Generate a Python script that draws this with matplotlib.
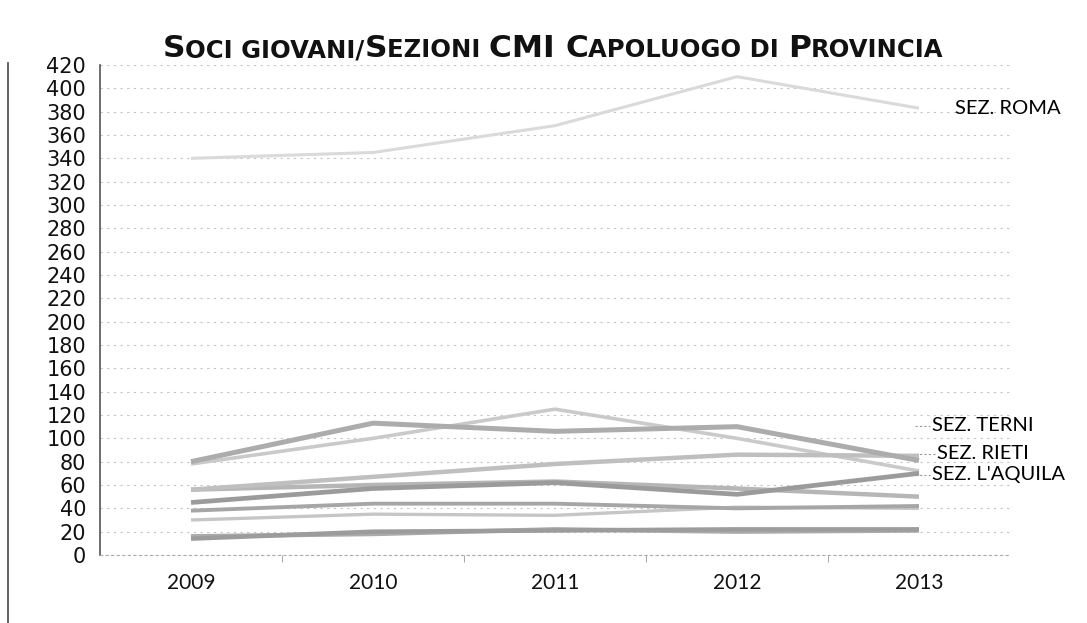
import matplotlib
matplotlib.use("Agg")
import matplotlib.pyplot as plt
from matplotlib.lines import Line2D

# ---- data -----------------------------------------------------------------
anni = ["2009", "2010", "2011", "2012", "2013"]
roma = [340, 345, 368, 410, 383]
terni = [80, 113, 106, 110, 81]
rieti = [56, 67, 78, 86, 85]
aquila = [45, 57, 62, 52, 70]
# unlabelled sections (faded lines in the scan)
sez_a = [78, 100, 125, 100, 72]
sez_b = [56, 60, 63, 57, 50]
sez_c = [38, 44, 44, 40, 42]
sez_d = [30, 35, 34, 41, 40]
sez_e = [14, 20, 21, 22, 22]
sez_f = [16, 18, 22, 20, 21]

y_ticks = list(range(0, 421, 20))

fig = plt.figure(figsize=(10.87, 6.23), dpi=100)
ax = fig.add_axes([100 / 1087, 68 / 623, 910 / 1087, 490 / 623])

x = list(range(len(anni)))
series = [
    (roma, "#dadada", 2.2),
    (sez_a, "#cacaca", 2.6),
    (sez_f, "#ababab", 3.2),
    (sez_e, "#9c9c9c", 3.2),
    (sez_d, "#c6c6c6", 2.4),
    (sez_c, "#a6a6a6", 2.8),
    (sez_b, "#b6b6b6", 3.2),
    (rieti, "#bfbfbf", 3.2),
    (aquila, "#9b9b9b", 3.4),
    (terni, "#acacac", 3.6),
]
for vals, col, lw in series:
    ax.plot(x, vals, color=col, lw=lw, solid_capstyle="butt", zorder=3)

ax.set_xlim(-0.5, len(anni) - 0.5)
ax.set_ylim(0, 420)
ax.set_yticks(y_ticks)
ax.set_yticklabels([str(v) for v in y_ticks], fontsize=15, family="DejaVu Sans",
                   color="#111111")
ax.set_xticks(x)
ax.set_xticklabels(anni, fontsize=15, family="Lato", color="#111111")
ax.set_xticks([i + 0.5 for i in x[:-1]], minor=True)
ax.tick_params(axis="y", length=0, pad=10)
ax.tick_params(axis="x", which="major", length=0, pad=13)
ax.tick_params(axis="x", which="minor", length=5, color="#999999", direction="out")

ax.yaxis.grid(True, color="#c4c4c4", lw=0.8, ls=(0, (2, 4)))
ax.set_axisbelow(True)
for s in ["top", "right"]:
    ax.spines[s].set_visible(False)
ax.spines["left"].set_color("#555555")
ax.spines["left"].set_linewidth(1.2)
ax.spines["bottom"].set_color("#aaaaaa")
ax.spines["bottom"].set_linestyle((0, (2, 3)))

# series labels at the right end
lab_x = len(anni) - 1 + 0.06
ax.text(lab_x + 0.14, roma[-1], "SEZ. ROMA", fontsize=14.5, family="Lato",
        va="center", ha="left")
for lbl, yv, dx in [("SEZ. TERNI", 111, 0.0), ("SEZ. RIETI", 87, 0.03),
                    ("SEZ. L'AQUILA", 69, 0.0)]:
    ax.plot([len(anni) - 1 - 0.02, lab_x + dx], [yv, yv], color="#999999",
            lw=0.8, ls=(0, (2, 2)), zorder=2)
    ax.text(lab_x + dx + 0.01, yv, lbl, fontsize=14.5, family="Lato",
            va="center", ha="left")

# small-caps style title, built from pieces
pieces = [("S", 22.5), ("OCI GIOVANI/", 17.5), ("S", 22.5), ("EZIONI ", 17.5),
          ("CMI ", 22.5), ("C", 22.5), ("APOLUOGO DI ", 17.5), ("P", 22.5),
          ("ROVINCIA", 17.5)]
renderer = fig.canvas.get_renderer()
texts = []
xpos = 0
for s, fs in pieces:
    t = fig.text(xpos, (623 - 57) / 623, s, fontsize=fs, fontweight="bold",
                 family="DejaVu Sans", va="baseline", ha="left", color="#111111")
    w = t.get_window_extent(renderer).width / fig.bbox.width
    texts.append((t, w))
    xpos += w
cur = (553 / 1087) - xpos / 2
for t, w in texts:
    t.set_x(cur)
    cur += w

# left page border of the scan
fig.add_artist(Line2D([8 / 1087, 8 / 1087], [0, 560 / 623],
                      transform=fig.transFigure, color="#444444", lw=1.2))

fig.savefig("out.png", dpi=100)
